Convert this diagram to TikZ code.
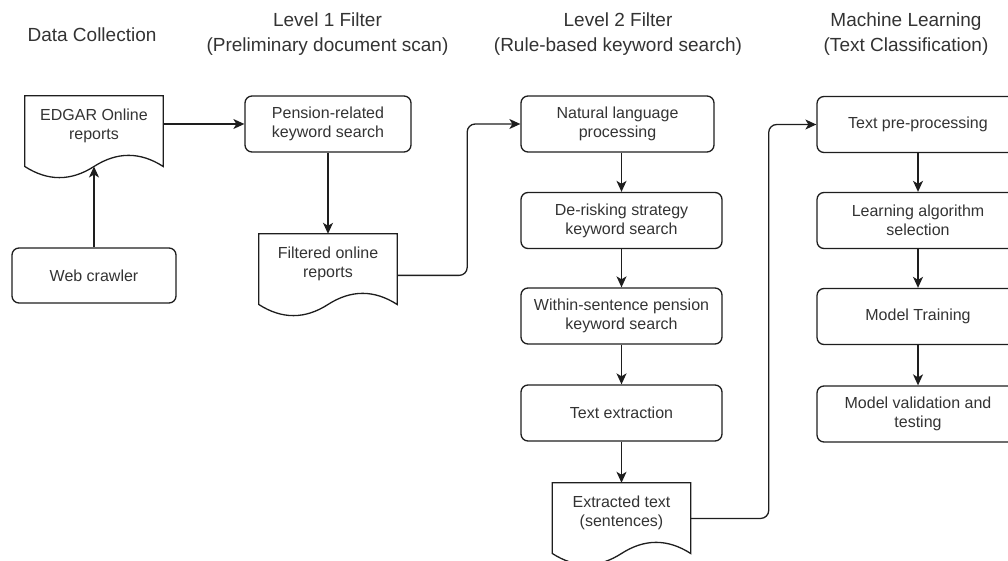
\documentclass[tikz,border=0pt]{standalone}
\usepackage{fontspec}
\setmainfont{Liberation Sans}
\usetikzlibrary{positioning, calc, arrows.meta}

\definecolor{txtgray}{HTML}{333333}
\definecolor{linegray}{HTML}{1E1E1E}

% wavy bottom of a document node
\newcommand\docshape[1]{%
  \draw[linegray, line width=1.3pt] let \p1=(#1.north west), \p2=(#1.south east) in
    (\x1,\y1) -- (\x2,\y1) -- (\x2,{\y1+1.19*(\y2-\y1)})
    .. controls ({\x1+5*(\x2-\x1)/6},{\y1+0.94*(\y2-\y1)}) and ({\x1+2*(\x2-\x1)/3},{\y1+0.94*(\y2-\y1)}) .. ({(\x1+\x2)/2},{\y1+1.19*(\y2-\y1)})
    .. controls ({\x1+(\x2-\x1)/3},{\y1+1.44*(\y2-\y1)}) and ({\x1+(\x2-\x1)/6},{\y1+1.44*(\y2-\y1)}) .. (\x1,{\y1+1.19*(\y2-\y1)})
    -- cycle;}

\begin{document}
\begin{tikzpicture}[x=1pt, y=-1pt,
    box/.style={draw=linegray, line width=1.3pt, rounded corners=7pt, minimum height=56pt,
        align=center, text=txtgray, font=\fontsize{16}{19.2}\selectfont, inner sep=2pt},
    docu/.style={minimum width=138pt, minimum height=59pt, inner sep=0pt,
        align=center, text=txtgray, font=\fontsize{16}{19.2}\selectfont},
    title/.style={align=center, text=txtgray, font=\fontsize{19}{25}\selectfont},
    arr/.style={draw=linegray, line width=1.3pt, -{Stealth[length=11pt,width=10pt,inset=3pt]}},
    link/.style={arr, rounded corners=8pt}]
    \useasboundingbox (0,0) rectangle (1008,561);
    \clip (0,0) rectangle (1008,561);

    % column titles
    \node[title] (tdata) at (92,35) {Data Collection};
    \node[title] (tlev1) at (327.5,34.5) {Level 1 Filter\\(Preliminary document scan)};
    \node[title] (tlev2) at (618,34.5) {Level 2 Filter\\(Rule-based keyword search)};
    \node[title] (tml) at (906,34.5) {Machine Learning\\(Text Classification)};

    % data collection
    \node[docu] (edgar) at (94,125.5) {EDGAR Online\\reports};
    \node[box, minimum width=164pt, minimum height=55pt] (web) at (94,275.5) {Web crawler};

    % level 1
    \node[box, minimum width=166pt] (pension) at (328,124) {Pension-related\\keyword search};
    \node[docu] (filtered) at (328,263.5) {Filtered online\\reports};

    % level 2
    \node[box, minimum width=193pt] (nlp) at (617.5,124) {Natural language\\processing};
    \node[box, minimum width=201pt] (derisk) at (621.5,220.5) {De-risking strategy\\keyword search};
    \node[box, minimum width=201pt] (within) at (621.5,316) {Within-sentence pension\\keyword search};
    \node[box, minimum width=201pt] (extract) at (621.5,413) {Text extraction};
    \node[docu] (extracted) at (621.5,512.5) {Extracted text\\(sentences)};

    % machine learning
    \node[box, minimum width=202pt] (prep) at (918,124.5) {Text pre-processing};
    \node[box, minimum width=202pt] (algo) at (918,220.5) {Learning algorithm\\selection};
    \node[box, minimum width=202pt] (train) at (918,316.5) {Model Training};
    \node[box, minimum width=202pt] (valid) at (918,414) {Model validation and\\testing};

    \docshape{edgar}
    \docshape{filtered}
    \docshape{extracted}

    \coordinate (edgarin) at ($(edgar.north)!1.19!(edgar.south)$);
    \coordinate (filtout) at ($(filtered.north east)!0.7!(filtered.south east)$);
    \coordinate (extrout) at ($(extracted.north east)!0.6!(extracted.south east)$);

    \draw[arr] (web) -- (edgarin);
    \draw[arr] (edgar.east |- pension.west) -- (pension.west);
    \draw[arr] (pension) -- (filtered);
    \draw[link] (filtout) -- ++(70,0) |- (nlp.west);
    \draw[arr] (nlp.south -| derisk.north) -- (derisk.north);
    \draw[arr] (derisk) -- (within);
    \draw[arr] (within) -- (extract);
    \draw[arr] (extract) -- (extracted);
    \draw[link] (extrout) -- ++(78,0) |- (prep.west);
    \draw[arr] (prep) -- (algo);
    \draw[arr] (algo) -- (train);
    \draw[arr] (train) -- (valid);
\end{tikzpicture}
\end{document}
